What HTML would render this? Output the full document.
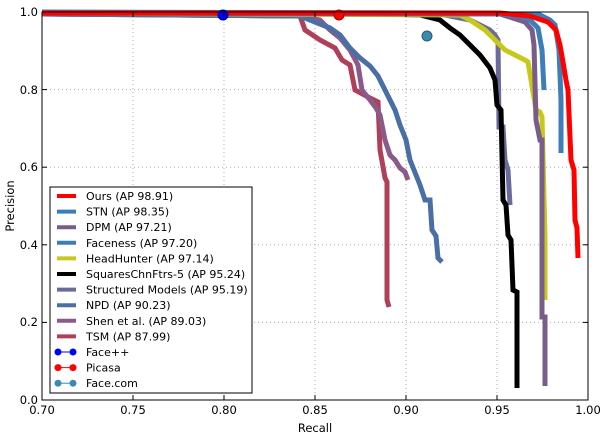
<!DOCTYPE html>
<html><head><meta charset="utf-8"><style>
html,body{margin:0;padding:0;background:#fff}
svg{display:block;font-family:"DejaVu Sans","Liberation Sans",sans-serif}
</style></head><body>
<svg width="604" height="437" xmlns="http://www.w3.org/2000/svg">
<rect width="604" height="437" fill="#fff"/>
<g stroke="#aaa" stroke-width="1" stroke-dasharray="1,3">
<line x1="133" y1="12" x2="133" y2="400"/><line x1="224" y1="12" x2="224" y2="400"/>
<line x1="315" y1="12" x2="315" y2="400"/><line x1="406" y1="12" x2="406" y2="400"/>
<line x1="497" y1="12" x2="497" y2="400"/>
<line x1="42" y1="322.4" x2="588" y2="322.4"/><line x1="42" y1="244.8" x2="588" y2="244.8"/>
<line x1="42" y1="167.2" x2="588" y2="167.2"/><line x1="42" y1="89.6" x2="588" y2="89.6"/>
</g>
<g fill="none" stroke-width="5" stroke-linejoin="miter" stroke-linecap="butt">
<polyline stroke="#b0405a" points="42,14 300,16 305,30 320,40 335,48 342,60 350,65 355,90 370,98 378,102 380,150 385,178 387,182 387,300 389,307"/>
<polyline stroke="#8a5a8a" points="42,14 300,16 320,20 330,30 340,38 350,50 358,65 362,90 370,100 376,108 380,115 385,140 390,155 395,160 400,168 405,172 408,180"/>
<polyline stroke="#4a6fa5" points="42,14 300,16 330,28 340,35 350,48 360,58 370,66 378,76 385,90 395,110 400,125 406,140 410,160 420,185 425,200 430,200 432,230 436,236 438,258 442,262"/>
<polyline stroke="#6a6a9c" points="42,13 440,14 470,20 480,25 490,30 495,35 498,40 499,127 503,127 505,160 508,170 510,205"/>
<polyline stroke="#000" points="42,13 380,14 420,15 440,20 450,28 460,35 470,45 480,55 490,68 495,80 497,105 501,110 503,200 506,205 508,235 511,240 513,290 517,292 517,388"/>
<polyline stroke="#c8c81a" points="42,13 460,15 470,20 485,30 490,35 495,40 500,45 505,50 515,55 525,60 528,62 531,80 536,110 540,112 542,117 545,237 545,300"/>
<polyline stroke="#7a5c8a" points="42,13 500,14 525,22 532,30 534,45 536,120 540,140 542,140 542,317 545,317 545,386"/>
<polyline stroke="#3b7eb8" points="42,13 500,14 520,16 530,20 538,28 542,50 544,90"/>
<polyline stroke="#3b7eb8" points="42,12 480,13 540,15 550,20 555,25 559,50 561,100 561,153"/>
<polyline stroke="#ff0000" points="42,13 500,13 530,16 548,22 556,30 560,45 563,62 566,80 568,90 571,160 574,170 575,220 577,228 578,258"/>
</g>
<circle cx="223" cy="15" r="5" fill="#0000ff" stroke="#0000aa"/>
<circle cx="339" cy="15" r="5" fill="#ff0000" stroke="#aa0000"/>
<circle cx="427" cy="36" r="5" fill="#3a8bb0" stroke="#2a5a70"/>
<rect x="42" y="12" width="546" height="388" fill="none" stroke="#000" stroke-width="1"/>
<g stroke="#000" stroke-width="1">
<line x1="133" y1="400" x2="133" y2="395"/><line x1="224" y1="400" x2="224" y2="395"/><line x1="315" y1="400" x2="315" y2="395"/><line x1="406" y1="400" x2="406" y2="395"/><line x1="497" y1="400" x2="497" y2="395"/>
<line x1="133" y1="12" x2="133" y2="17"/><line x1="224" y1="12" x2="224" y2="17"/><line x1="315" y1="12" x2="315" y2="17"/><line x1="406" y1="12" x2="406" y2="17"/><line x1="497" y1="12" x2="497" y2="17"/>
<line x1="42" y1="322.4" x2="47" y2="322.4"/><line x1="42" y1="244.8" x2="47" y2="244.8"/><line x1="42" y1="167.2" x2="47" y2="167.2"/><line x1="42" y1="89.6" x2="47" y2="89.6"/>
<line x1="588" y1="322.4" x2="583" y2="322.4"/><line x1="588" y1="244.8" x2="583" y2="244.8"/><line x1="588" y1="167.2" x2="583" y2="167.2"/><line x1="588" y1="89.6" x2="583" y2="89.6"/>
</g>
<g font-size="11.5" fill="#000" text-anchor="middle">
<text x="42" y="414">0.70</text><text x="133" y="414">0.75</text><text x="224" y="414">0.80</text><text x="315" y="414">0.85</text><text x="406" y="414">0.90</text><text x="497" y="414">0.95</text><text x="588" y="414">1.00</text>
<text x="315" y="432">Recall</text>
</g>
<g font-size="11.5" fill="#000" text-anchor="end">
<text x="38" y="404">0.0</text><text x="38" y="326">0.2</text><text x="38" y="249">0.4</text><text x="38" y="171">0.6</text><text x="38" y="94">0.8</text><text x="38" y="16">1.0</text>
</g>
<text x="14" y="206" font-size="11.5" text-anchor="middle" transform="rotate(-90 14 206)">Precision</text>
<rect x="50" y="187" width="202" height="206" fill="#fff" stroke="#000" stroke-width="1"/>
<g font-size="11" fill="#000">
<line x1="57" y1="196" x2="76" y2="196" stroke="#ff0000" stroke-width="4"/><text x="86" y="200">Ours (AP 98.91)</text>
<line x1="57" y1="211.6" x2="76" y2="211.6" stroke="#3b7eb8" stroke-width="4"/><text x="86" y="215.6">STN (AP 98.35)</text>
<line x1="57" y1="227.2" x2="76" y2="227.2" stroke="#7a5c8a" stroke-width="4"/><text x="86" y="231.2">DPM (AP 97.21)</text>
<line x1="57" y1="242.8" x2="76" y2="242.8" stroke="#3b7eb8" stroke-width="4"/><text x="86" y="246.8">Faceness (AP 97.20)</text>
<line x1="57" y1="258.4" x2="76" y2="258.4" stroke="#c8c81a" stroke-width="4"/><text x="86" y="262.4">HeadHunter (AP 97.14)</text>
<line x1="57" y1="274" x2="76" y2="274" stroke="#000" stroke-width="4"/><text x="86" y="278">SquaresChnFtrs-5 (AP 95.24)</text>
<line x1="57" y1="289.6" x2="76" y2="289.6" stroke="#6a6a9c" stroke-width="4"/><text x="86" y="293.6">Structured Models (AP 95.19)</text>
<line x1="57" y1="305.2" x2="76" y2="305.2" stroke="#4a6fa5" stroke-width="4"/><text x="86" y="309.2">NPD (AP 90.23)</text>
<line x1="57" y1="320.8" x2="76" y2="320.8" stroke="#8a5a8a" stroke-width="4"/><text x="86" y="324.8">Shen et al. (AP 89.03)</text>
<line x1="57" y1="336.4" x2="76" y2="336.4" stroke="#b0405a" stroke-width="4"/><text x="86" y="340.4">TSM (AP 87.99)</text>
<line x1="58" y1="352" x2="73" y2="352" stroke="#0000ff" stroke-width="1"/><circle cx="58" cy="352" r="3.5" fill="#0000ff"/><circle cx="73" cy="352" r="3.5" fill="#0000ff"/><text x="86" y="356">Face++</text>
<line x1="58" y1="367.6" x2="73" y2="367.6" stroke="#ff0000" stroke-width="1"/><circle cx="58" cy="367.6" r="3.5" fill="#ff0000"/><circle cx="73" cy="367.6" r="3.5" fill="#ff0000"/><text x="86" y="371.6">Picasa</text>
<line x1="58" y1="383.2" x2="73" y2="383.2" stroke="#3a8bb0" stroke-width="1"/><circle cx="58" cy="383.2" r="3.5" fill="#3a8bb0"/><circle cx="73" cy="383.2" r="3.5" fill="#3a8bb0"/><text x="86" y="387.2">Face.com</text>
</g>
</svg>
</body></html>
